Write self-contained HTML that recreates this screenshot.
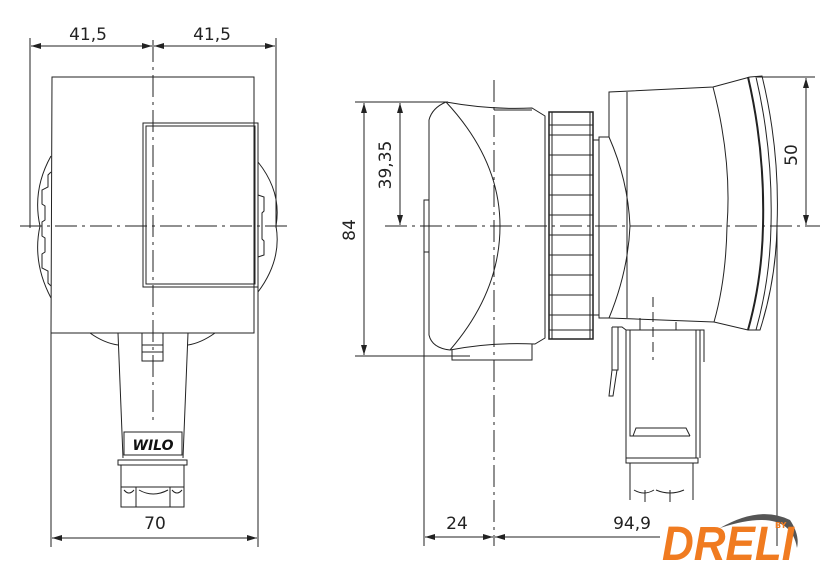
<!DOCTYPE html>
<html><head><meta charset="utf-8"><style>
html,body{margin:0;padding:0;background:#fff;width:840px;height:569px;overflow:hidden}
svg{display:block}
text{font-family:"DejaVu Sans","Liberation Sans",sans-serif;fill:#222}
</style></head><body>
<svg width="840" height="569" viewBox="0 0 840 569" xmlns="http://www.w3.org/2000/svg">
<defs>
<marker id="a" viewBox="0 0 10 6" refX="10" refY="3" markerWidth="10" markerHeight="6" orient="auto-start-reverse" markerUnits="userSpaceOnUse"><path d="M0,0L10,3L0,6z" fill="#222"/></marker>
</defs>
<g stroke="#222" stroke-width="1" fill="none">
<!-- LEFT VIEW -->
<line x1="30" y1="38" x2="30" y2="228"/><line x1="276" y1="38" x2="276" y2="228"/>
<line x1="31" y1="46" x2="152" y2="46" marker-start="url(#a)" marker-end="url(#a)"/>
<line x1="154" y1="46" x2="275" y2="46" marker-start="url(#a)" marker-end="url(#a)"/>
<path d="M52,77H254V333H51Z"/>
<rect x="143" y="123" width="115" height="164"/>
<rect x="146" y="126" width="109" height="158"/>
<path d="M51,156Q32,190 40,226Q32,262 51,298"/>
<path d="M51,172l-3,3v12l-6,3v14l3,2v14l-3,2v14l3,2v14l-3,2v14l6,3v12l3,3"/>
<path d="M258,162Q282,192 276,226Q282,260 258,292"/>
<path d="M258,195l6,2v14l-2,2v26l2,2v14l-6,2"/>
<line x1="20" y1="226" x2="292" y2="226" stroke-dasharray="22,5,3,5"/>
<line x1="153" y1="40" x2="153" y2="425" stroke-dasharray="22,5,3,5"/>
<path d="M90,333Q104,343 118,345M215,333Q201,343 188,345"/>
<path d="M118,333L123,458M188,333L183,458"/>
<rect x="142" y="333" width="21" height="28"/><line x1="142" y1="345" x2="163" y2="345"/><line x1="142" y1="352" x2="163" y2="352"/>
<rect x="124" y="432" width="58" height="23"/>
<rect x="118" y="460" width="69" height="5"/>
<rect x="121" y="465" width="63" height="42"/>
<path d="M136,487v20M170,487v20M121,487h63M124,490q5,6 10,0M139,490q14,8 29,0M172,490q5,6 10,0"/>
<line x1="51" y1="333" x2="51" y2="547"/><line x1="258" y1="287" x2="258" y2="547"/>
<line x1="52" y1="538" x2="257" y2="538" marker-start="url(#a)" marker-end="url(#a)"/>
<!-- RIGHT VIEW -->
<line x1="355" y1="102" x2="448" y2="102"/><line x1="355" y1="356" x2="470" y2="356"/>
<line x1="364" y1="103" x2="364" y2="355" marker-start="url(#a)" marker-end="url(#a)"/>
<line x1="400" y1="103" x2="400" y2="225" marker-start="url(#a)" marker-end="url(#a)"/>
<line x1="385" y1="226" x2="820" y2="226" stroke-dasharray="22,5,3,5"/>
<line x1="494" y1="80" x2="494" y2="546" stroke-dasharray="22,5,3,5"/>
<line x1="424" y1="200" x2="424" y2="546"/>
<rect x="424" y="200" width="5" height="52"/>
<path d="M446,102Q432,108 429,120V335Q432,348 450,350Q490,342 535,344L545,338V116L532,108Q490,110 446,102Z"/>
<path d="M446,102Q500,160 500,226Q500,292 450,350"/>
<path d="M452,350V360H532V344"/>
<path d="M494,110H532"/>
<rect x="549" y="112" width="44" height="227" stroke-width="1.5"/>
<path d="M552,112v227M590,112v227"/>
<path d="M549,125h44M549,135h44M549,155h44M549,175h44M549,195h44M549,215h44M549,235h44M549,255h44M549,275h44M549,295h44M549,315h44M549,330h44"/>
<path d="M593,140h6V315h-6M599,137h10Q628,180 630,226Q628,272 609,318h-10Z"/>
<path d="M609,137V92L713,87L750,77L762,76Q780,150 777,226Q776,280 760,330L748,330L714,322L609,318"/>
<path d="M627,92V318"/>
<path d="M713,87Q732,160 727,226Q726,280 714,322"/>
<path d="M748,77Q765,150 763,226Q762,280 748,330" stroke-width="2"/>
<path d="M756,77Q773,150 771,226Q770,280 756,330"/>
<line x1="757" y1="77" x2="815" y2="77"/>
<line x1="806" y1="78" x2="806" y2="225" marker-start="url(#a)" marker-end="url(#a)"/>
<line x1="777" y1="226" x2="777" y2="546"/>
<line x1="653" y1="297" x2="653" y2="360" stroke-dasharray="10,5"/>
<path d="M612,327h10l4,3V458M612,327V370h6V327M612,370l-3,26h4l4,-26"/>
<path d="M626,330H700V458M630,330V436H690M633,436l3,-8h50l4,8"/>
<path d="M700,330h4V362M696,330V458"/>
<path d="M640,318v12M676,322v8"/>
<rect x="626" y="458" width="72" height="5"/>
<path d="M630,463V500M693,463V500M634,490q10,6 20,0M656,490q14,6 28,0M645,490v12M670,490v12"/>
<line x1="425" y1="537" x2="493" y2="537" marker-start="url(#a)" marker-end="url(#a)"/>
<line x1="495" y1="537" x2="660" y2="537" marker-start="url(#a)"/>
</g>
<g stroke="none">
<text x="88" y="40" font-size="17" text-anchor="middle">41,5</text>
<text x="212" y="40" font-size="17" text-anchor="middle">41,5</text>
<text x="155" y="529" font-size="17" text-anchor="middle">70</text>
<text x="153" y="450" font-size="14" font-weight="bold" font-style="italic" text-anchor="middle" style="fill:#111">WILO</text>
<text transform="translate(355,230) rotate(-90)" font-size="17" text-anchor="middle">84</text>
<text transform="translate(391,165) rotate(-90)" font-size="17" text-anchor="middle">39,35</text>
<text transform="translate(797,155) rotate(-90)" font-size="17" text-anchor="middle">50</text>
<text x="457" y="529" font-size="17" text-anchor="middle">24</text>
<text x="632" y="529" font-size="17" text-anchor="middle">94,9</text>
<path d="M720,528Q790,505 797,548Q800,535 790,520Q760,505 720,528Z" fill="#555"/>
<text x="662" y="560" font-size="48" font-weight="bold" font-style="italic" style="fill:#f07b20;font-family:'Liberation Sans',sans-serif" textLength="132" lengthAdjust="spacingAndGlyphs">DRELI</text>
<text x="775" y="528" font-size="8" font-weight="bold" style="fill:#f07b20">BY</text>
</g>
</svg>
</body></html>
